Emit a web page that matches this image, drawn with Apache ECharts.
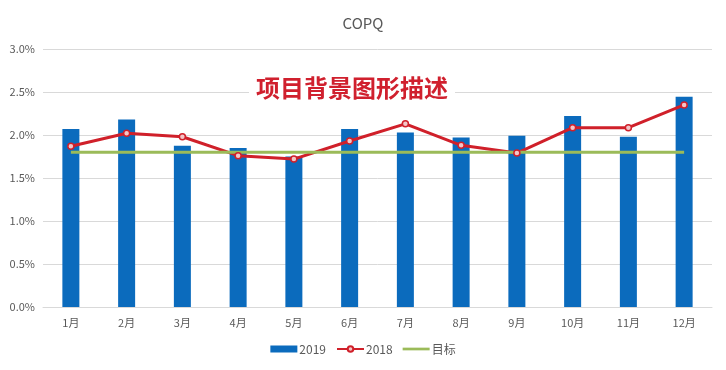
<!DOCTYPE html>
<html>
<head>
<meta charset="utf-8">
<script src="https://cdn.jsdelivr.net/npm/echarts@6/dist/echarts.min.js"></script>
<style>
html,body{margin:0;padding:0;background:#fff;}
#main{width:726px;height:370px;}
</style>
</head>
<body>
<div id="main"></div>
<script>
const categories = ['1月','2月','3月','4月','5月','6月','7月','8月','9月','10月','11月','12月'];
const values2019 = [2.07, 2.18, 1.875, 1.85, 1.75, 2.07, 2.03, 1.97, 1.99, 2.22, 1.98, 2.445];
const values2018 = [1.87, 2.02, 1.98, 1.76, 1.72, 1.93, 2.13, 1.88, 1.79, 2.085, 2.085, 2.35];
const target = [1.8, 1.8, 1.8, 1.8, 1.8, 1.8, 1.8, 1.8, 1.8, 1.8, 1.8, 1.8];
const yTicks = [0, 0.5, 1.0, 1.5, 2.0, 2.5, 3.0];
const titleText = 'COPQ';
const noteText = '项目背景图形描述';

const font = '"Microsoft YaHei","Noto Sans CJK SC","Noto Sans",sans-serif';
const chart = echarts.init(document.getElementById('main'));
chart.setOption({
  animation: false,
  backgroundColor: '#fff',
  title: {
    text: titleText, left: 'center', top: 11,
    textStyle: {fontSize: 15, fontWeight: 'normal', color: '#595959', fontFamily: font}
  },
  grid: {left: 43, right: 14, top: 49, bottom: 63},
  legend: {
    bottom: 10, left: 'center', itemGap: 10, itemWidth: 27, itemHeight: 7,
    textStyle: {fontSize: 12, color: '#595959', fontFamily: font, padding: [0,0,0,-3]},
    data: [
      {name: '2019', icon: 'rect'},
      {name: '2018'},
      {name: '目标', icon: 'path://M0,0 L30,0 L30,3 L0,3 Z'}
    ]
  },
  xAxis: {
    type: 'category', data: categories,
    axisLine: {lineStyle: {color: '#d9d9d9'}},
    axisTick: {show: false},
    axisLabel: {fontSize: 11, color: '#595959', fontFamily: font, margin: 10}
  },
  yAxis: {
    type: 'value', min: yTicks[0], max: yTicks[yTicks.length-1], interval: 0.5,
    axisLine: {show: false}, axisTick: {show: false},
    splitLine: {lineStyle: {color: '#d9d9d9'}},
    axisLabel: {fontSize: 11, color: '#595959', fontFamily: font, margin: 8,
      formatter: v => v.toFixed(1) + '%'}
  },
  series: [
    {name: '2019', type: 'bar', data: values2019, barWidth: 17,
      itemStyle: {color: '#0b6bbd'}},
    {name: '2018', type: 'line', data: values2018, symbol: 'circle', symbolSize: 6,
      lineStyle: {color: '#d0202a', width: 3},
      itemStyle: {color: '#f3c6c8', borderColor: '#d0202a', borderWidth: 1.5}},
    {name: '目标', type: 'line', data: target, symbol: 'none',
      lineStyle: {color: '#9bbb59', width: 3},
      itemStyle: {color: '#9bbb59'}}
  ],
  graphic: [{
    type: 'text', left: 249, top: 74, z: 100,
    style: {
      text: noteText, fill: '#d0202e', font: 'bold 24px "Noto Sans CJK SC"',
      backgroundColor: '#ffffff', padding: [2, 7, 2, 7]
    }
  }]
});
</script>
</body>
</html>
